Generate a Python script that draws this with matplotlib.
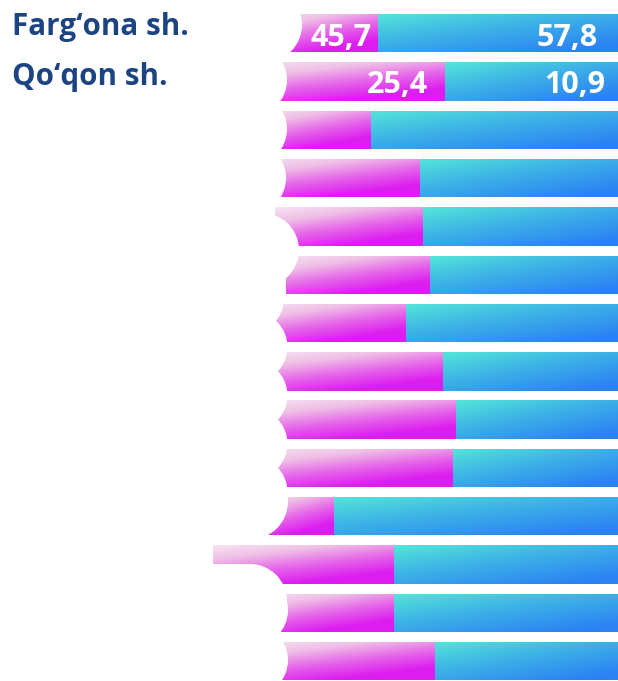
import numpy as np
import matplotlib
matplotlib.use("Agg")
import matplotlib.pyplot as plt
from matplotlib.colors import LinearSegmentedColormap
from matplotlib.patches import Circle, Rectangle

# ---------------- data ----------------
categories = ["Farg‘ona sh.", "Qo‘qon sh.", "", "", "", "", "", "", "", "", "", "", "", ""]
bar_start = [265, 250, 255, 255, 275, 286, 262, 262, 262, 262, 255, 213, 255, 255]
split = [378, 445, 371, 420, 423, 430, 406, 443, 456, 453, 334, 394, 394, 435]
bar_end = [618] * 14
left_labels = ["45,7", "25,4"]
right_labels = ["57,8", "10,9"]

# ---------------- style ----------------
pink_cmap = LinearSegmentedColormap.from_list(
    "pink", [(0.0, "#f7e2f4"), (0.3, "#efbfe5"), (0.65, "#e664ea"), (1.0, "#dc1df0")])
blue_cmap = LinearSegmentedColormap.from_list(
    "blue", [(0.0, "#52e7d8"), (0.45, "#3eb4e6"), (1.0, "#2a82f4")])
label_color = "#1c4482"
FONT = ["Open Sans", "DejaVu Sans"]

fig = plt.figure(figsize=(6.18, 6.81), dpi=100)
ax = fig.add_axes([0, 0, 1, 1])

n = len(categories)
row_top0, pitch, h = 14.0, 48.3, 38.5
centers = row_top0 + pitch * np.arange(n) + h / 2

starts = np.array(bar_start, float)
splits = np.array(split, float)
ends = np.array(bar_end, float)

pink_bars = ax.barh(centers, splits - starts, left=starts, height=h, color="none", edgecolor="none")
blue_bars = ax.barh(centers, ends - splits, left=splits, height=h, color="none", edgecolor="none")


def gradient_fill(patch, cmap, wy, wx):
    x0, y0 = patch.get_x(), patch.get_y()
    w, hh = patch.get_width(), patch.get_height()
    nx = max(int(w), 2)
    ny = 40
    xs = np.linspace(0, 1, nx)[None, :]
    ys = np.linspace(0, 1, ny)[:, None]
    t = np.clip(wy * ys + wx * xs, 0, 1)
    im = ax.imshow(t, cmap=cmap, vmin=0, vmax=1, extent=(x0, x0 + w, y0 + hh, y0),
                   origin="upper", aspect="auto", interpolation="bilinear", zorder=2)
    im.set_clip_path(patch)


for p in pink_bars:
    gradient_fill(p, pink_cmap, 0.8, 0.45)
for p in blue_bars:
    gradient_fill(p, blue_cmap, 0.6, 0.5)

# white rounded masks on the left ends
masks = [(265, 25, 37), (250, 80, 37), (250, 129, 37), (249, 178, 37),
         (262, 250, 37), (248, 298.5, 36), (252, 347, 35.5), (252, 395.4, 35.5),
         (252, 443.7, 35.5), (252, 492, 35.5), (250, 501.5, 38), (250, 601, 37),
         (251, 610, 37), (251, 660, 37)]
for cx, cy, r in masks:
    ax.add_patch(Circle((cx, cy), r, facecolor="white", edgecolor="none", zorder=5))
ax.add_patch(Rectangle((0, 564), 250, 80, facecolor="white", edgecolor="none", zorder=5))

# category labels
label_base = [35, 85]
for i, lab in enumerate(categories):
    if lab:
        ax.text(12, label_base[i], lab, ha="left", va="baseline", fontsize=21.3,
                fontweight="bold", color=label_color, family=FONT, zorder=10)

# value labels
pink_x = [372, 428]
blue_x = [598, 605]
base_y = [46, 93]
for i, lab in enumerate(left_labels):
    ax.text(pink_x[i], base_y[i], lab, ha="right", va="baseline", fontsize=22,
            fontweight="bold", color="white", family=FONT, zorder=10)
for i, lab in enumerate(right_labels):
    ax.text(blue_x[i], base_y[i], lab, ha="right", va="baseline", fontsize=22,
            fontweight="bold", color="white", family=FONT, zorder=10)

ax.set_xlim(0, 618)
ax.set_ylim(681, 0)
ax.axis("off")
fig.savefig("out.png", dpi=100, facecolor="white")
